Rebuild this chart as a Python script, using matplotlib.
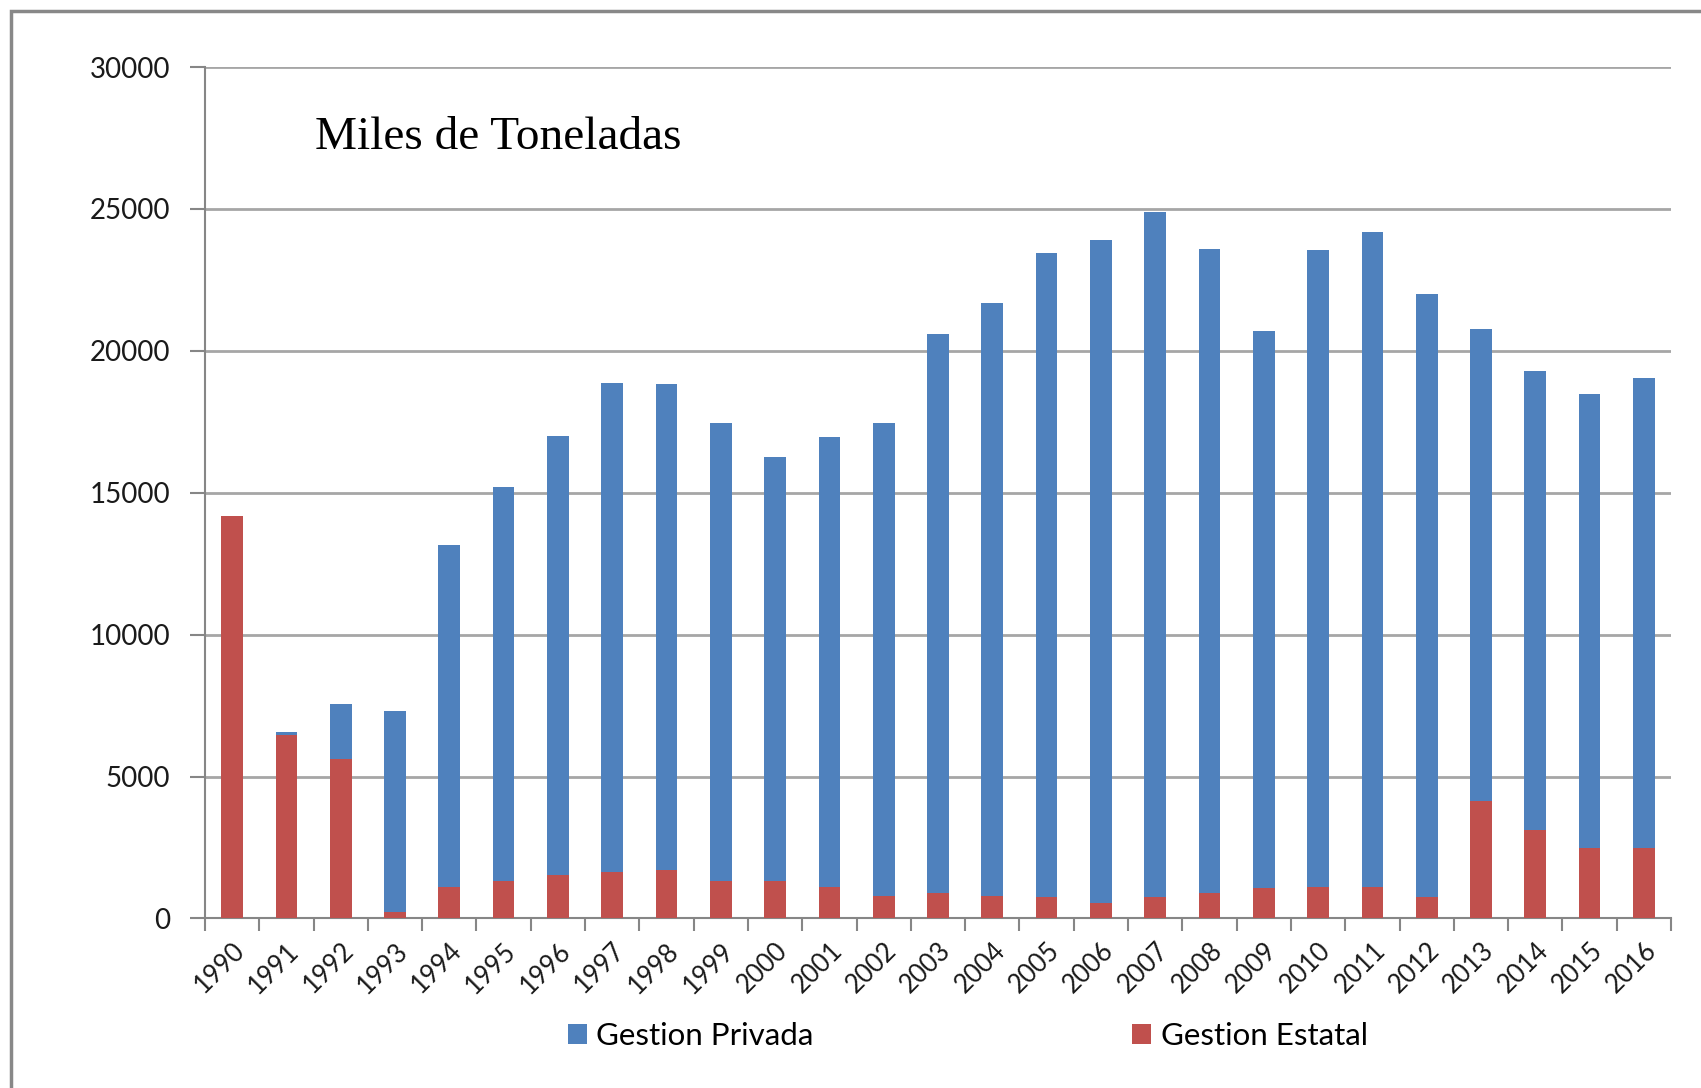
import matplotlib
matplotlib.use("Agg")
import matplotlib.pyplot as plt
import numpy as np
from matplotlib.patches import Rectangle

# data (miles de toneladas)
years = [str(y) for y in range(1990, 2017)]
estatal = [14180, 6470, 5620, 230, 1110, 1330, 1540, 1650, 1710, 1330,
           1330, 1110, 800, 910, 800, 750, 530, 750, 910, 1060,
           1110, 1110, 750, 4150, 3120, 2480, 2480]
privada = [0, 110, 1950, 7070, 12050, 13860, 15460, 17230, 17120, 16130,
           14940, 15850, 16670, 19690, 20900, 22690, 23370, 24140, 22680, 19640,
           22430, 23060, 21270, 16620, 16170, 16000, 16580]
y_ticks = [0, 5000, 10000, 15000, 20000, 25000, 30000]

blue = '#4F81BD'
red = '#C0504D'
grid_c = '#A6A6A6'
axis_c = '#868686'

plt.rcParams['font.family'] = ['Lato', 'DejaVu Sans']

fig = plt.figure(figsize=(17.01, 10.88), dpi=100)
ax = fig.add_axes([0.1205, 0.1558, 0.8619, 0.7826])

x = np.arange(len(years))
w = 0.4
ax.bar(x, estatal, width=w, color=red, label='Gestion Estatal', zorder=3)
ax.bar(x, privada, width=w, bottom=estatal, color=blue, label='Gestion Privada', zorder=3)

ax.set_xlim(-0.5, len(years) - 0.5)
ax.set_ylim(0, 30000)
ax.set_yticks(y_ticks)
ax.set_yticklabels([str(v) for v in y_ticks], fontsize=20, color='#1a1a1a')
ax.yaxis.grid(True, color=grid_c, linewidth=2, zorder=0)

# category labels at centres, tick marks at boundaries
ax.set_xticks(x)
ax.set_xticklabels(years, rotation=45, ha='right', va='top',
                   rotation_mode='anchor', fontsize=18.5, color='#1a1a1a')
ax.set_xticks(np.arange(-0.5, len(years)), minor=True)
ax.tick_params(axis='x', which='major', length=0, pad=14)
ax.tick_params(axis='x', which='minor', length=9, width=1.5, color=axis_c)
ax.tick_params(axis='y', length=11, width=1.5, color=axis_c, pad=14)

for s in ['top', 'right']:
    ax.spines[s].set_visible(False)
ax.spines['left'].set_color(axis_c)
ax.spines['bottom'].set_color(axis_c)
ax.spines['left'].set_linewidth(1.5)
ax.spines['bottom'].set_linewidth(1.5)

ax.text(0.075, 0.9035, 'Miles de Toneladas', transform=ax.transAxes,
        fontsize=34, family='Liberation Serif', va='baseline', ha='left')

handles, labels = ax.get_legend_handles_labels()
fig.legend(handles[::-1], labels[::-1], loc='center', bbox_to_anchor=(0.569, 0.048),
           ncol=2, frameon=False, fontsize=22.5, columnspacing=10.2,
           handlelength=0.6, handleheight=0.6, handletextpad=0.3)

# outer chart frame
fig.patches.append(Rectangle((11, -20), 1760, 1088 - 11 + 20, transform=None,
                             fill=False, edgecolor='#888888', linewidth=2.5))

fig.savefig('out.png', dpi=100)
